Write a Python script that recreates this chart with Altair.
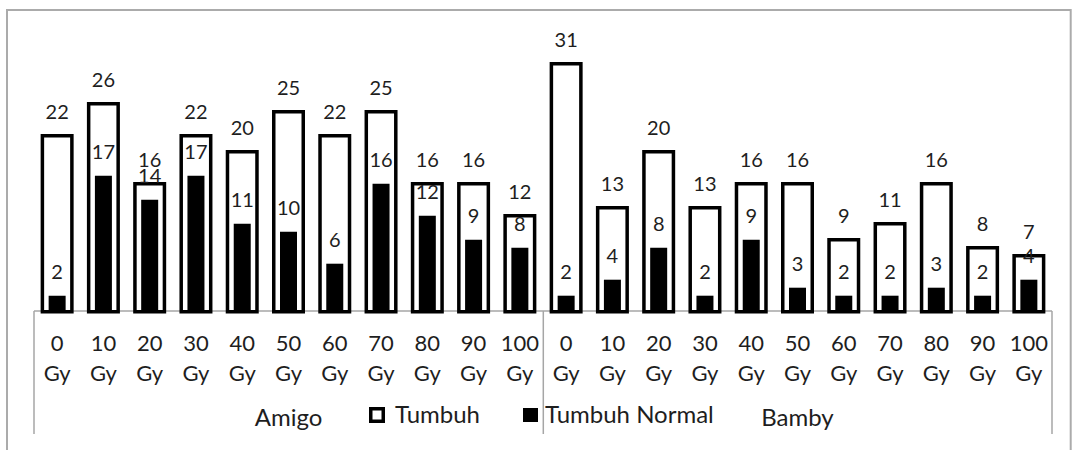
import altair as alt
import pandas as pd

# Germination counts per gamma-ray dose for two varieties
groups = ["Amigo", "Bamby"]
doses = ["0", "10", "20", "30", "40", "50", "60", "70", "80", "90", "100"]
tumbuh_amigo = [22, 26, 16, 22, 20, 25, 22, 25, 16, 16, 12]
normal_amigo = [2, 17, 14, 17, 11, 10, 6, 16, 12, 9, 8]
tumbuh_bamby = [31, 13, 20, 13, 16, 16, 9, 11, 16, 8, 7]
normal_bamby = [2, 4, 8, 2, 9, 3, 2, 2, 3, 2, 4]
series = ["Tumbuh", "Tumbuh Normal"]

rows = []
for g, tum, nor in [("Amigo", tumbuh_amigo, normal_amigo), ("Bamby", tumbuh_bamby, normal_bamby)]:
    for d, t, n in zip(doses, tum, nor):
        rows.append({"key": f"{g} {d}", "group": g, "dose": d, "tumbuh": t, "normal": n})
df = pd.DataFrame(rows)
keys = list(df["key"])

# group label sits under the middle dose of each group
grp = pd.DataFrame({"group": groups, "key": [f"{g} {doses[5]}" for g in groups]})

FONT = "Lato"
TXT = "#1e1e1e"
GRID = "#a6a6a6"

xs = alt.Scale(domain=keys, range=[34, 1052], paddingInner=0, paddingOuter=0)
ys = alt.Scale(domain=[0, 35], range=[311.7, 31.7], nice=False, zero=True)
X = alt.X("key:N", sort=keys, scale=xs, axis=None)

one = pd.DataFrame({"v": [0]})

frame = alt.Chart(one).mark_rect(fill=None, stroke="#ababab", strokeWidth=2).encode(
    x=alt.value(7), x2=alt.value(1070.7), y=alt.value(10), y2=alt.value(470)
)

baseline = alt.Chart(one).mark_rule(color=GRID, strokeWidth=1.5).encode(
    x=alt.value(34), x2=alt.value(1052), y=alt.value(311)
)

dividers = alt.Chart(pd.DataFrame({"px": [34, 543.3, 1052]})).mark_rule(color=GRID, strokeWidth=1.5).encode(
    x=alt.X("px:Q", scale=None), y=alt.value(311), y2=alt.value(434)
)

white = alt.Chart(df).mark_bar(fill="white", stroke="black", strokeWidth=3.5, width=29.5).encode(
    x=X, y=alt.Y("tumbuh:Q", scale=ys, axis=None)
)
black = alt.Chart(df).mark_bar(color="black", width=17).encode(
    x=X, y=alt.Y("normal:Q", scale=ys, axis=None)
)

lab_t = alt.Chart(df).mark_text(font=FONT, fontSize=20, color=TXT, baseline="alphabetic", dy=-16.5).encode(
    x=X, y=alt.Y("tumbuh:Q", scale=ys, axis=None), text="tumbuh:Q"
)
lab_n = alt.Chart(df).mark_text(font=FONT, fontSize=20, color=TXT, baseline="alphabetic", dy=-16.5).encode(
    x=X, y=alt.Y("normal:Q", scale=ys, axis=None), text="normal:Q"
)

tick_num = alt.Chart(df).mark_text(font=FONT, fontSize=22, color=TXT, baseline="alphabetic").encode(
    x=X, y=alt.value(351), text="dose:N"
)
tick_unit = alt.Chart(df).mark_text(font=FONT, fontSize=22, color=TXT, baseline="alphabetic").encode(
    x=X, y=alt.value(381), text=alt.value("Gy")
)

grp_lab = alt.Chart(grp).mark_text(font=FONT, fontSize=24, color=TXT, baseline="alphabetic").encode(
    x=X, y=alt.value(426), text="group:N"
)

# legend
leg_box = alt.Chart(one).mark_rect(fill="white", stroke="black", strokeWidth=3.5).encode(
    x=alt.value(370.75), x2=alt.value(383.25), y=alt.value(408.75), y2=alt.value(421.25)
)
leg_fill = alt.Chart(one).mark_rect(fill="black").encode(
    x=alt.value(523), x2=alt.value(538), y=alt.value(408), y2=alt.value(422)
)
leg_txt = alt.Chart(pd.DataFrame({"name": series, "px": [395, 545]})).mark_text(
    font=FONT, fontSize=24, color=TXT, align="left", baseline="alphabetic"
).encode(x=alt.X("px:Q", scale=None), y=alt.value(423), text="name:N")

chart = alt.layer(
    frame, baseline, dividers, white, black, lab_t, lab_n,
    tick_num, tick_unit, grp_lab, leg_box, leg_fill, leg_txt
).resolve_scale(x="independent").properties(
    width=1072, height=450, padding=0, autosize="none", background="white"
).configure_view(stroke=None)

chart.save("out.html", embed_options={"renderer": "svg", "actions": False})
